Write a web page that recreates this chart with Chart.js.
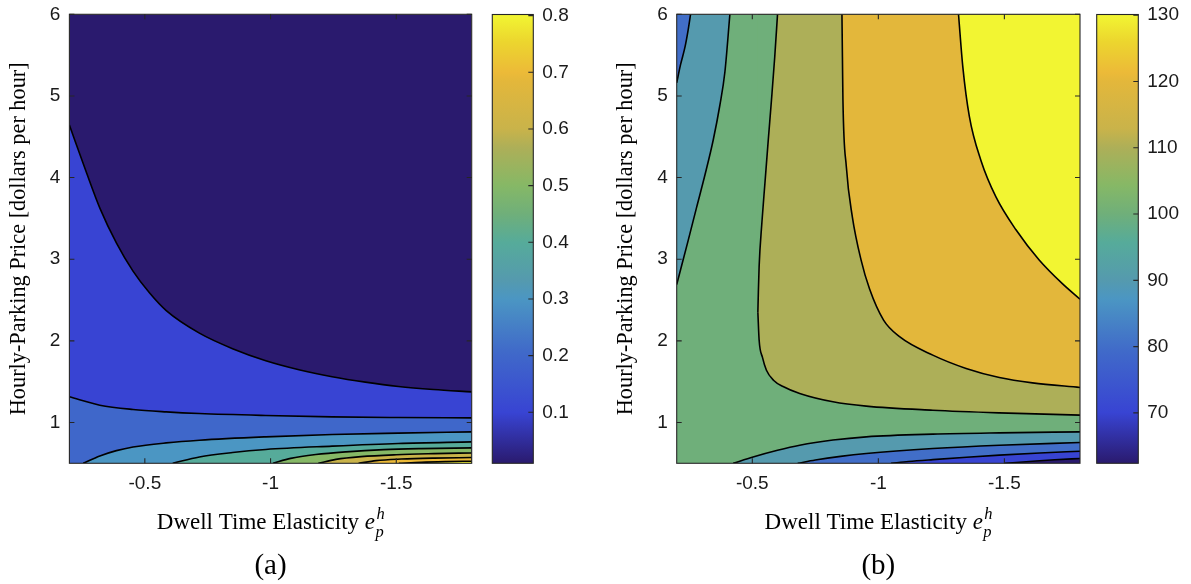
<!DOCTYPE html>
<html>
<head>
<meta charset="utf-8">
<title>Contour plots (a) and (b)</title>
<script src="https://cdn.jsdelivr.net/npm/chart.js@4.4.1/dist/chart.umd.min.js"></script>
<style>
  html, body { margin:0; padding:0; background:#fff; }
  #wrap { position:relative; width:1191px; height:584px; overflow:hidden; background:#fff; }
  #wrap canvas { position:absolute; top:0; }
</style>
</head>
<body>
<div id="wrap">
  <canvas id="plotA" width="485" height="584" style="left:0px;width:485px;height:584px"></canvas>
  <canvas id="barA" width="100" height="584" style="left:485px;width:100px;height:584px"></canvas>
  <canvas id="plotB" width="500" height="584" style="left:590px;width:500px;height:584px"></canvas>
  <canvas id="barB" width="101" height="584" style="left:1090px;width:101px;height:584px"></canvas>
</div>
<script>
// ---------------- data ----------------
const xRange = [-1.8, -0.2];
const yRange = [0.5, 6];
const xTicks = [-0.5, -1, -1.5];
const yTicks = [1, 2, 3, 4, 5, 6];
const cbTicksA = [0.1, 0.2, 0.3, 0.4, 0.5, 0.6, 0.7, 0.8];
const cbTicksB = [70, 80, 90, 100, 110, 120, 130];
const cbRangeA = [0.01, 0.802];
const cbRangeB = [62.4, 130.1];

// Panel (a) contour lines, [elasticity, price]
const a010 = [[-0.2,4.643],[-0.2685,4.055],[-0.3211,3.626],[-0.3873,3.197],[-0.453,2.854],[-0.5191,2.585],[-0.5852,2.37],[-0.717,2.094],[-0.8489,1.904],[-0.9811,1.757],[-1.1129,1.647],[-1.2448,1.561],[-1.377,1.494],[-1.5088,1.441],[-1.6473,1.404],[-1.8,1.375]];
const a020 = [[-0.2,1.314],[-0.321,1.212],[-0.453,1.159],[-0.585,1.13],[-0.717,1.11],[-0.981,1.086],[-1.245,1.069],[-1.508,1.061],[-1.8,1.056]];
const a030 = [[-0.255,0.5],[-0.321,0.59],[-0.387,0.655],[-0.453,0.7],[-0.585,0.75],[-0.717,0.783],[-0.981,0.824],[-1.245,0.853],[-1.508,0.87],[-1.8,0.885]];
const a040 = [[-0.611,0.5],[-0.717,0.578],[-0.849,0.632],[-0.981,0.669],[-1.245,0.71],[-1.508,0.743],[-1.8,0.762]];
const a050 = [[-1.01,0.5],[-1.08,0.56],[-1.18,0.607],[-1.3,0.64],[-1.45,0.667],[-1.6,0.68],[-1.8,0.689]];
const a060 = [[-1.19,0.5],[-1.26,0.548],[-1.36,0.582],[-1.5,0.605],[-1.65,0.618],[-1.8,0.627]];
const a070 = [[-1.35,0.5],[-1.42,0.533],[-1.52,0.552],[-1.65,0.564],[-1.8,0.571]];
const a080 = [[-1.51,0.5],[-1.6,0.513],[-1.7,0.521],[-1.8,0.526]];
const levelsA = [0.1, 0.2, 0.3, 0.4, 0.5, 0.6, 0.7, 0.8];
const linesA = [a010, a020, a030, a040, a050, a060, a070, a080];

// Panel (b) contour lines, [elasticity, price]
const b090top = [[-0.2,5.16],[-0.215,5.38],[-0.233,5.6],[-0.245,5.8],[-0.255,6.0]];
const b100top = [[-0.2,2.689],[-0.2459,3.234],[-0.2792,3.638],[-0.312,4.031],[-0.3449,4.46],[-0.3714,4.889],[-0.3912,5.293],[-0.411,6.0]];
const b110up  = [[-0.522,2.35],[-0.524,2.6],[-0.527,2.91],[-0.538,3.45],[-0.55,3.93],[-0.563,4.45],[-0.576,4.95],[-0.589,5.48],[-0.6,6.0]];
const b110low = [[-0.522,2.35],[-0.527,2.01],[-0.54,1.8],[-0.556,1.64],[-0.585,1.515],[-0.622,1.44],[-0.688,1.355],[-0.82,1.253],[-0.952,1.2],[-1.216,1.15],[-1.48,1.118],[-1.8,1.09]];
const b120    = [[-0.8556,6.0],[-0.8575,5.477],[-0.8595,4.95],[-0.873,4.132],[-0.8968,3.52],[-0.9316,2.989],[-0.9652,2.634],[-1.0207,2.254],[-1.084,2.051],[-1.2159,1.825],[-1.3481,1.662],[-1.4799,1.551],[-1.6117,1.485],[-1.8,1.429]];
const b130    = [[-1.318,6.0],[-1.335,5.36],[-1.361,4.75],[-1.407,4.21],[-1.467,3.76],[-1.546,3.36],[-1.638,2.99],[-1.73,2.7],[-1.8,2.51]];
const b100bot = [[-0.424,0.5],[-0.503,0.578],[-0.6,0.66],[-0.688,0.722],[-0.82,0.785],[-0.952,0.824],[-1.216,0.857],[-1.48,0.873],[-1.8,0.885]];
const b090bot = [[-0.68,0.5],[-0.75,0.54],[-0.85,0.585],[-0.952,0.62],[-1.216,0.681],[-1.48,0.722],[-1.8,0.755]];
const b080bot = [[-1.05,0.5],[-1.12,0.522],[-1.216,0.545],[-1.35,0.574],[-1.48,0.6],[-1.64,0.627],[-1.8,0.648]];
const b070bot = [[-1.5,0.5],[-1.6,0.522],[-1.7,0.543],[-1.8,0.559]];

// ---------------- styles ----------------
const CMAP = [
  [0.000, [42, 26, 110]],
  [0.113, [56, 68, 211]],
  [0.250, [64, 106, 201]],
  [0.366, [75, 150, 195]],
  [0.408, [85, 154, 174]],
  [0.492, [86, 171, 154]],
  [0.555, [111, 175, 122]],
  [0.619, [134, 184, 102]],
  [0.703, [173, 175, 88]],
  [0.745, [201, 179, 74]],
  [0.851, [227, 183, 59]],
  [0.871, [236, 186, 56]],
  [0.940, [236, 214, 46]],
  [1.000, [242, 246, 50]]
];
function cmap(t) {
  t = Math.max(0, Math.min(1, t));
  for (let i = 1; i < CMAP.length; i++) {
    const [t1, c1] = CMAP[i];
    const [t0, c0] = CMAP[i - 1];
    if (t <= t1) {
      const f = (t - t0) / (t1 - t0);
      const c = c0.map((v, k) => Math.round(v + (c1[k] - v) * f));
      return `rgb(${c[0]},${c[1]},${c[2]})`;
    }
  }
  const c = CMAP[CMAP.length - 1][1];
  return `rgb(${c[0]},${c[1]},${c[2]})`;
}
const colorAt = (v, range) => cmap((v - range[0]) / (range[1] - range[0]));

const SANS = "'Liberation Sans', Arial, sans-serif";
const SERIF = "'Liberation Serif', 'Times New Roman', serif";
const TICK_FONT = { family: SANS, size: 19 };
const TICK_COLOR = '#1a1a1a';
const LINE_W = 1.6;
const TICK_LEN = 5;
const PLOT_TOP = 14.3, PLOT_BOTTOM = 463.3, CANVAS_H = 584;

// ---------------- plugins ----------------
const framePlugin = {
  id: 'frame',
  afterDatasetsDraw(chart, args, o) {
    const { ctx, chartArea: a, scales } = chart;
    ctx.save();
    ctx.strokeStyle = '#262626';
    ctx.lineWidth = 1.1;
    ctx.beginPath();
    if (o.x) for (const v of o.x) {
      const px = scales.x.getPixelForValue(v);
      ctx.moveTo(px, a.bottom); ctx.lineTo(px, a.bottom - TICK_LEN);
      ctx.moveTo(px, a.top); ctx.lineTo(px, a.top + TICK_LEN);
    }
    if (o.y) for (const v of o.y) {
      const py = scales.y.getPixelForValue(v);
      if (o.left !== false) { ctx.moveTo(a.left, py); ctx.lineTo(a.left + TICK_LEN, py); }
      ctx.moveTo(a.right, py); ctx.lineTo(a.right - TICK_LEN, py);
    }
    ctx.stroke();
    ctx.strokeRect(a.left, a.top, a.right - a.left, a.bottom - a.top);
    ctx.restore();
  }
};

const titlePlugin = {
  id: 'titles',
  afterDraw(chart, args, o) {
    const { ctx, chartArea: a } = chart;
    const cx = (a.left + a.right) / 2;
    ctx.save();
    ctx.fillStyle = '#000';
    // y-axis title
    ctx.save();
    ctx.translate(a.left - o.yGap, (a.top + a.bottom) / 2);
    ctx.rotate(-Math.PI / 2);
    ctx.font = `${o.yFont}px ${SERIF}`;
    ctx.textAlign = 'center';
    ctx.textBaseline = 'middle';
    ctx.fillText(o.yTitle, 0, 0);
    ctx.restore();
    // x-axis title with e_p^h
    ctx.textAlign = 'left';
    ctx.textBaseline = 'alphabetic';
    const mainFont = `${o.xFont}px ${SERIF}`;
    const itFont = `italic ${o.xFont}px ${SERIF}`;
    const smallFont = `italic ${o.sFont}px ${SERIF}`;
    const main = o.xTitle + ' ';
    ctx.font = mainFont; const w1 = ctx.measureText(main).width;
    ctx.font = itFont; const w2 = ctx.measureText(o.sym).width;
    ctx.font = smallFont;
    const w3 = Math.max(ctx.measureText(o.sup).width, ctx.measureText(o.sub).width);
    const total = w1 + w2 + 1 + w3;
    const x0 = cx - total / 2;
    const base = a.bottom + o.xBase;
    ctx.font = mainFont; ctx.fillText(main, x0, base);
    ctx.font = itFont; ctx.fillText(o.sym, x0 + w1, base);
    ctx.font = smallFont;
    ctx.fillText(o.sup, x0 + w1 + w2 + 1.5, base - o.supUp);
    ctx.fillText(o.sub, x0 + w1 + w2 + 0.5, base + o.subDown);
    // panel label
    ctx.font = `${o.lFont}px ${SERIF}`;
    ctx.textAlign = 'center';
    ctx.textBaseline = 'middle';
    ctx.fillText(o.label, cx, a.bottom + o.lOff);
    ctx.restore();
  }
};

// ---------------- builders ----------------
function makeDatasets(paint, range) {
  const n = paint.length;
  return paint.map((p, k) => ({
    data: p.line.map(q => ({ x: q[0], y: q[1] })),
    fill: p.fill,
    backgroundColor: colorAt(p.level, range),
    borderColor: p.stroke === false ? 'rgba(0,0,0,0)' : '#000',
    borderWidth: LINE_W,
    pointRadius: 0, pointHoverRadius: 0, pointHitRadius: 0,
    cubicInterpolationMode: 'monotone',
    order: n - k
  }));
}

function noPadY(s, w) { s.width = w; s.paddingTop = 0; s.paddingBottom = 0; }
function noPadX(s, h) { s.height = h; s.paddingLeft = 0; s.paddingRight = 0; }

function plotChart(id, paint, range, yAxisW, padRight, label) {
  return new Chart(document.getElementById(id), {
    type: 'line',
    data: { datasets: makeDatasets(paint, range) },
    options: {
      responsive: false, animation: false, events: [],
      layout: { padding: { left: 0, right: padRight, top: PLOT_TOP, bottom: 0 } },
      plugins: {
        legend: { display: false },
        tooltip: { enabled: false },
        filler: { drawTime: 'beforeDatasetsDraw', propagate: false },
        frame: { x: xTicks, y: yTicks },
        titles: {
          yTitle: 'Hourly-Parking Price [dollars per hour]', yGap: 50.3, yFont: 22.3,
          xTitle: 'Dwell Time Elasticity', sym: 'e', sup: 'h', sub: 'p',
          xFont: 23, sFont: 16.5, xBase: 66, supUp: 10, subDown: 8,
          label: label, lFont: 29, lOff: 103.4
        }
      },
      scales: {
        x: {
          type: 'linear', reverse: true, min: xRange[0], max: xRange[1],
          grid: { display: false, drawTicks: false }, border: { display: false },
          afterBuildTicks: s => { s.ticks = xTicks.map(v => ({ value: v })); },
          afterFit: s => noPadX(s, CANVAS_H - PLOT_BOTTOM),
          ticks: { padding: 9, maxRotation: 0, autoSkip: false, font: TICK_FONT, color: TICK_COLOR, callback: v => String(v) }
        },
        y: {
          type: 'linear', min: yRange[0], max: yRange[1],
          grid: { display: false, drawTicks: false }, border: { display: false },
          afterBuildTicks: s => { s.ticks = yTicks.map(v => ({ value: v })); },
          afterFit: s => noPadY(s, yAxisW),
          ticks: { padding: 9, autoSkip: false, font: TICK_FONT, color: TICK_COLOR, callback: v => String(v) }
        }
      }
    },
    plugins: [framePlugin, titlePlugin]
  });
}

function barGradient(chart) {
  const a = chart.chartArea;
  if (!a) return cmap(0.5);
  const g = chart.ctx.createLinearGradient(0, a.bottom, 0, a.top);
  for (const [t, c] of CMAP) g.addColorStop(t, `rgb(${c[0]},${c[1]},${c[2]})`);
  return g;
}

function colorbarChart(id, range, ticks, fmt, padLeft, axisW) {
  return new Chart(document.getElementById(id), {
    type: 'bar',
    data: {
      labels: ['colorbar'],
      datasets: [{ data: [range], backgroundColor: c => barGradient(c.chart), borderWidth: 0, barPercentage: 1, categoryPercentage: 1 }]
    },
    options: {
      responsive: false, animation: false, events: [],
      layout: { padding: { left: padLeft, right: 0, top: 14.5, bottom: CANVAS_H - PLOT_BOTTOM } },
      plugins: { legend: { display: false }, tooltip: { enabled: false }, frame: { y: ticks, left: false } },
      scales: {
        x: { display: false },
        y: {
          position: 'right', min: range[0], max: range[1],
          grid: { display: false, drawTicks: false }, border: { display: false },
          afterBuildTicks: s => { s.ticks = ticks.map(v => ({ value: v })); },
          afterFit: s => noPadY(s, axisW),
          ticks: { padding: 9, autoSkip: false, font: TICK_FONT, color: TICK_COLOR, callback: fmt }
        }
      }
    },
    plugins: [framePlugin]
  });
}

// ---------------- paint order (painter's algorithm) ----------------
const topEdge = [[xRange[1], yRange[1]], [xRange[0], yRange[1]]];

const paintA = [{ line: topEdge, fill: 'start', level: cbRangeA[0], stroke: false }]
  .concat(levelsA.map((lv, i) => ({ line: linesA[i], fill: 'start', level: lv })));

const paintB = [
  { line: topEdge, fill: 'start', level: 100, stroke: false },
  { line: b110low, fill: 'end', level: 110 },
  { line: b110up, fill: 'end', level: 100 },
  { line: b120, fill: 'end', level: 120 },
  { line: b130, fill: 'end', level: 130 },
  { line: b100top, fill: 'end', level: 90 },
  { line: b090top, fill: 'end', level: 80 },
  { line: b100bot, fill: 'start', level: 90 },
  { line: b090bot, fill: 'start', level: 80 },
  { line: b080bot, fill: 'start', level: 70 },
  { line: b070bot, fill: 'start', level: cbRangeB[0] }
];

plotChart('plotA', paintA, cbRangeA, 69.4, 485 - 471.7, '(a)');
colorbarChart('barA', cbRangeA, cbTicksA, v => Number(v).toFixed(1), 7.3, 100 - 48.3);
plotChart('plotB', paintB, cbRangeB, 676.7 - 590, 500 - (1080 - 590), '(b)');
colorbarChart('barB', cbRangeB, cbTicksB, v => String(v), 6.7, 101 - 48.3);
</script>
</body>
</html>
